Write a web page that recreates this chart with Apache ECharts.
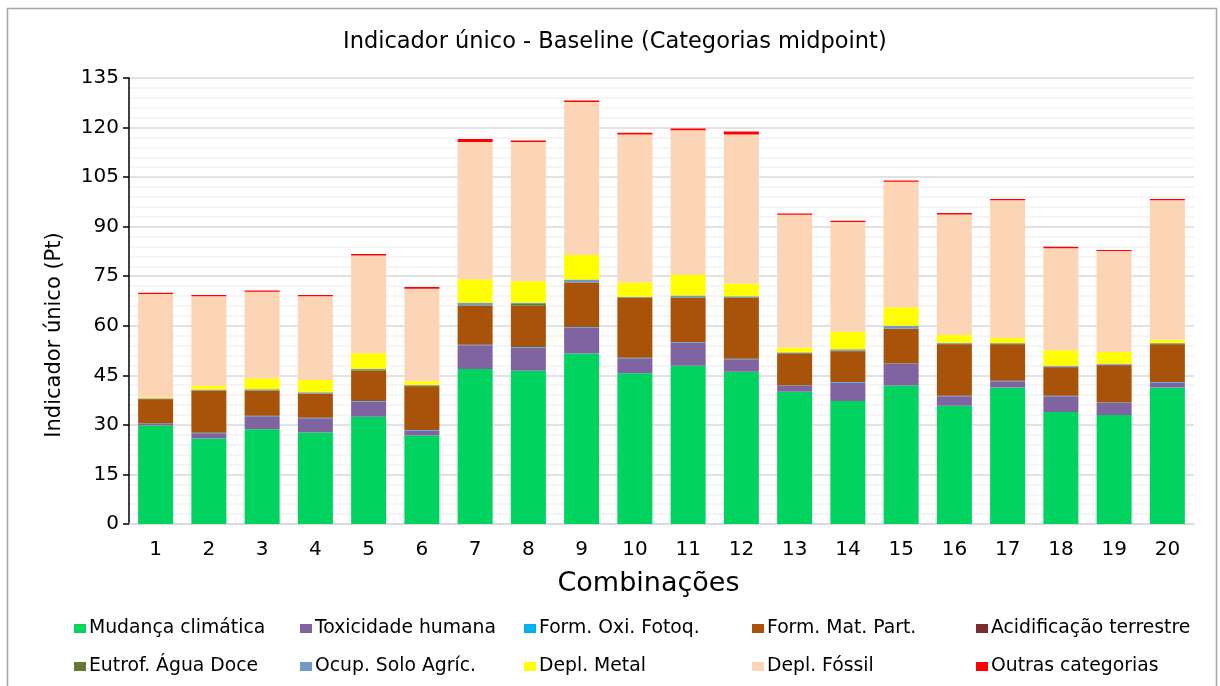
<!DOCTYPE html>
<html>
<head>
<meta charset="utf-8">
<script src="https://cdn.jsdelivr.net/npm/echarts@6/dist/echarts.min.js"></script>
<style>html,body{margin:0;padding:0;background:#fff}#c{width:1220px;height:686px}</style>
</head>
<body>
<div id="c"></div>
<script>
const categories = ['1','2','3','4','5','6','7','8','9','10','11','12','13','14','15','16','17','18','19','20'];
const seriesNames = ['Mudança climática','Toxicidade humana','Form. Oxi. Fotoq.','Form. Mat. Part.','Acidificação terrestre','Eutrof. Água Doce','Ocup. Solo Agríc.','Depl. Metal','Depl. Fóssil','Outras categorias'];
const mudanca    = [29.8,25.9,28.7,27.7,32.5,26.8,46.9,46.4,51.6,45.6,47.9,46.1,40.0,37.2,41.9,35.8,41.3,33.9,33.0,41.3];
const toxicidade = [0.5,1.6,3.9,4.3,4.6,1.5,7.2,7.0,7.9,4.6,7.0,3.8,1.8,5.6,6.5,2.9,1.9,4.8,3.6,1.5];
const formOxi    = [0.15,0.15,0.15,0.15,0.15,0.15,0.15,0.15,0.15,0.15,0.15,0.15,0.15,0.15,0.15,0.15,0.15,0.15,0.15,0.15];
const formMat    = [7.25,12.65,7.55,7.25,9.15,13.25,11.75,12.45,13.35,18.05,13.35,18.35,9.65,9.35,10.45,15.55,11.05,8.55,11.25,11.45];
const acidif     = [0.1,0.1,0.1,0.1,0.1,0.1,0.1,0.1,0.1,0.1,0.1,0.1,0.1,0.1,0.1,0.1,0.1,0.1,0.1,0.1];
const eutrof     = [0.1,0.1,0.1,0.1,0.1,0.1,0.1,0.5,0.1,0.1,0.1,0.1,0.1,0.1,0.1,0.1,0.1,0.1,0.1,0.1];
const ocup       = [0.2,0.2,0.3,0.3,0.3,0.2,0.8,0.4,0.8,0.2,0.6,0.3,0.2,0.4,0.8,0.3,0.2,0.3,0.3,0.2];
const deplMetal  = [0.3,1.1,3.3,3.7,4.8,1.1,7.1,6.5,7.4,4.3,6.2,3.9,1.4,5.3,5.6,2.3,1.5,4.7,3.6,1.0];
const deplFossil = [31.2,27.1,26.2,25.3,29.6,28.0,41.5,42.1,46.3,44.8,43.8,45.1,40.2,33.2,38.0,36.5,41.7,30.9,30.5,42.2];
const outras     = [0.4,0.4,0.4,0.4,0.4,0.5,0.9,0.5,0.5,0.5,0.5,0.9,0.4,0.4,0.4,0.4,0.4,0.4,0.3,0.4];
const yTicks = [0,15,30,45,60,75,90,105,120,135];

const seriesData = [mudanca,toxicidade,formOxi,formMat,acidif,eutrof,ocup,deplMetal,deplFossil,outras];
const colors = ['#00D35F','#8064A2','#00B0F0','#A9520A','#7B2C2C','#617A35','#7399C6','#FFFF00','#FBD5B5','#FF0000'];

const FONT = 'DejaVu Sans';
const legendCols = [74,300,524,752,976];
const legendRows = [619,657];
const legends = seriesNames.map((n,i)=>({
  data:[n], left: legendCols[i%5], top: legendRows[Math.floor(i/5)],
  itemWidth:12, itemHeight:9, itemGap:0, padding:0,
  icon:'rect',
  textStyle:{fontFamily:FONT, fontSize:18.8, color:'#000', padding:[0,0,0,-2]}
}));

const chart = echarts.init(document.getElementById('c'), null, {renderer:'canvas'});
chart.setOption({
  animation:false,
  backgroundColor:'#fff',
  color: colors,
  title:{text:'Indicador único - Baseline (Categorias midpoint)', left:343, top:31, padding:0,
    textStyle:{fontFamily:FONT, fontSize:22.5, fontWeight:'normal', color:'#000'}},
  legend: legends,
  graphic:[
    {type:'rect', shape:{x:7.5,y:8.5,width:1209,height:700}, style:{fill:'none', stroke:'#A6A6A6', lineWidth:1.5}, silent:true, z:-1},
    {type:'text', x:55, y:335, rotation:Math.PI/2, silent:true,
      style:{text:'Indicador único (Pt)', fontFamily:FONT, fontSize:21, fill:'#000', align:'center', verticalAlign:'middle'}}
  ],
  grid:{left:129, right:26, top:78, bottom:162, containLabel:false},
  xAxis:{type:'category', data:categories,
    name:'Combinações', nameLocation:'middle', nameGap:46,
    nameTextStyle:{fontFamily:FONT, fontSize:27, color:'#000', padding:[0,26,0,0]},
    axisLine:{lineStyle:{color:'#D9D9D9', width:1.5}},
    axisTick:{show:false},
    axisLabel:{fontFamily:FONT, fontSize:20, color:'#000', margin:16}},
  yAxis:{type:'value', min:0, max:135, interval:15,
    axisLine:{show:true, lineStyle:{color:'#000', width:1.5}},
    axisTick:{show:true, length:6, lineStyle:{color:'#000', width:1.5}},
    axisLabel:{fontFamily:FONT, fontSize:20, color:'#000', margin:10,
      formatter:(v)=> yTicks.includes(v) ? String(v) : ''},
    splitLine:{lineStyle:{color:'#D9D9D9', width:1.5}},
    minorTick:{show:false, splitNumber:5},
    minorSplitLine:{show:true, lineStyle:{color:'#F2F2F2', width:1.5}}},
  series: seriesNames.map((n,i)=>({
    name:n, type:'bar', stack:'total', data:seriesData[i],
    barWidth:35,
    itemStyle:{color:colors[i]}
  }))
});
</script>
</body>
</html>
